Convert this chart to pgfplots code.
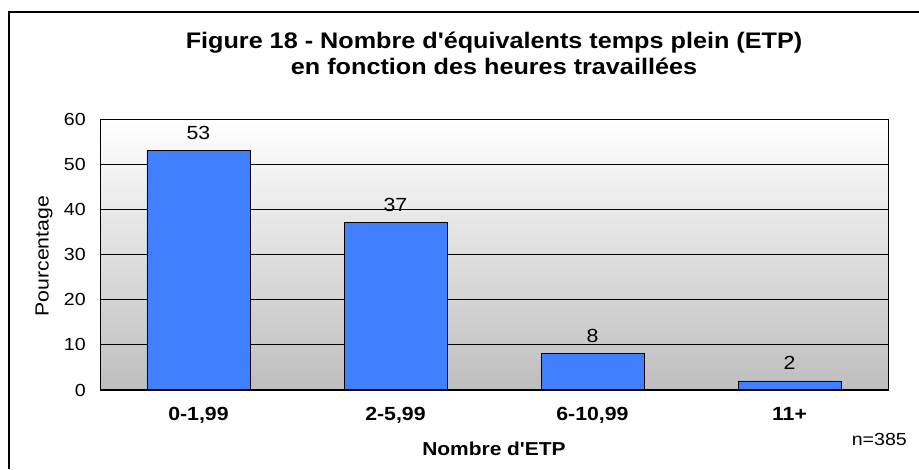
\documentclass[border=0pt]{standalone}
\usepackage{pgfplots}
\pgfplotsset{compat=1.18}
\usepackage{fontspec}
\setmainfont{Liberation Sans}[FakeStretch=1.12, Ligatures=TeXOff]
\definecolor{barblue}{RGB}{64,128,255}
\definecolor{bggray}{RGB}{190,190,190}
\begin{document}
\begin{tikzpicture}[x=1pt,y=1pt]
\useasboundingbox (0,0) rectangle (919,469);
\draw[line width=1.2pt] (9,0) -- (9,457) -- (919,457);
\begin{axis}[
  at={(100pt,79pt)}, anchor=south west,
  width=788pt, height=271pt, scale only axis,
  xmin=-0.5, xmax=3.5, ymin=0, ymax=60,
  xtick={0,1,2,3},
  xticklabels={{0-1,99},{2-5,99},{6-10,99},{11+}},
  ytick={0,10,20,30,40,50,60},
  major tick length=0pt,
  ymajorgrids, grid style={black, line width=1pt},
  axis line style={black, line width=1pt},
  axis background/.style={shade, top color=white, bottom color=bggray},
  /pgf/number format/assume math mode=true,
  yticklabel style={font=\fontsize{17.5}{20}\selectfont, anchor=east, inner sep=0pt, xshift=-14pt},
  xticklabel style={font=\fontsize{19}{20}\selectfont\bfseries, anchor=north, inner sep=0pt, yshift=-17pt},
  xlabel={Nombre d'ETP},
  xlabel style={font=\fontsize{18.7}{20}\selectfont\bfseries, at={(axis description cs:0.5,-0.192)}, anchor=north, inner sep=0pt},
  ylabel={Pourcentage},
  ylabel style={font=\fontsize{19}{20}\selectfont, at={(axis description cs:-0.0711,0.494)}, anchor=center, rotate=0, inner sep=0pt},
  ybar, bar width=103pt,
  nodes near coords,
  nodes near coords style={font=\fontsize{19}{20}\selectfont, anchor=south, inner sep=0pt, yshift=11pt, /pgf/number format/fixed, /pgf/number format/precision=0},
]
\addplot[fill=barblue, draw=black, line width=0.8pt] coordinates {(0,53) (1,37) (2,8) (3,2)};
\draw[line width=2.2pt] (rel axis cs:0,0) -- (rel axis cs:1,0);
\end{axis}
\node[anchor=base, inner sep=0pt, font=\fontsize{22.5}{24}\selectfont\bfseries] at (494,420) {Figure 18 - Nombre d'équivalents temps plein (ETP)};
\node[anchor=base, inner sep=0pt, font=\fontsize{22.5}{24}\selectfont\bfseries] at (494,394) {en fonction des heures travaillées};
\node[anchor=east, inner sep=0pt, font=\fontsize{17.5}{20}\selectfont] at (907,30) {n=385};
\end{tikzpicture}
\end{document}
